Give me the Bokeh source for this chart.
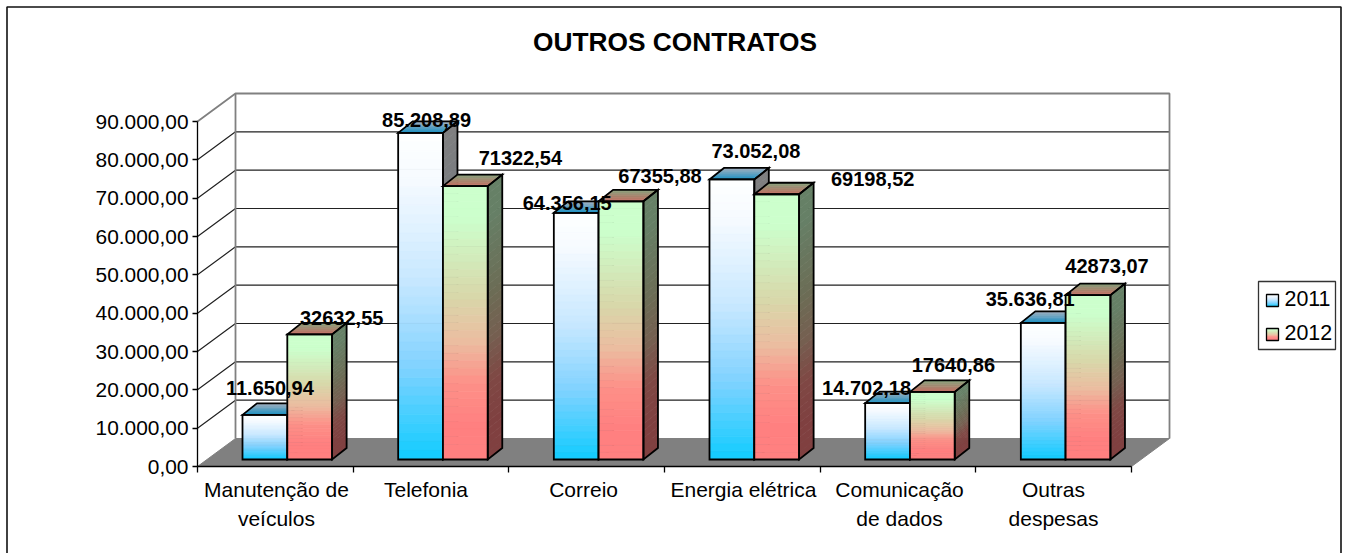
from bokeh.plotting import figure
from bokeh.models import ColumnDataSource, FixedTicker
from bokeh.core.properties import value
from bokeh.embed import file_html
from bokeh.resources import INLINE

CATEGORIES = ["Manutenção de\nveículos", "Telefonia", "Correio", "Energia elétrica", "Comunicação\nde dados", "Outras\ndespesas"]
SERIES_2011 = [11650.94, 85208.89, 64356.15, 73052.08, 14702.18, 35636.81]
SERIES_2012 = [32632.55, 71322.54, 67355.88, 69198.52, 17640.86, 42873.07]
LABELS_2011 = ["11.650,94", "85.208,89", "64.356,15", "73.052,08", "14.702,18", "35.636,81"]
LABELS_2012 = ["32632,55", "71322,54", "67355,88", "69198,52", "17640,86", "42873,07"]
Y_TICKS = [0, 10000, 20000, 30000, 40000, 50000, 60000, 70000, 80000, 90000]
Y_TICK_LABELS = ["0,00", "10.000,00", "20.000,00", "30.000,00", "40.000,00", "50.000,00", "60.000,00", "70.000,00", "80.000,00", "90.000,00"]
TITLE = "OUTROS CONTRATOS"
LEGEND_NAMES = ["2011", "2012"]
LABEL_TICKS = [0.507, 1.468, 2.480, 3.507, 4.510, 5.499]

# label nudges (pixels) relative to the top-front-centre of each bar
NUDGE_X_2011 = [5, 6, -9, 24, -21, -13]
NUDGE_Y_2011 = [27, 13, 10, 28, 15, 24]
NUDGE_X_2012 = [32, 55, 39, 96, 21, 19]
NUDGE_Y_2012 = [16, 28, 25, 15, 27, 29]

W, H = 1347, 553
X0, CAT_W = 197.0, 155.667      # pixel of x=0, pixels per category
Y0, PX_PER_V = 466.0, 345 / 90000
FONT = "Liberation Sans"

# stops: position, rgb
GRAD = {
    0: [(0, (255, 255, 255)), (0.15, (245, 250, 255)), (0.45, (200, 232, 255)), (0.72, (128, 210, 255)), (1, (16, 204, 255))],
    1: [(0, (204, 255, 204)), (0.12, (204, 255, 204)), (0.4, (216, 216, 170)), (0.57, (235, 189, 160)), (0.72, (253, 144, 136)), (0.88, (255, 128, 128)), (1, (255, 128, 128))],
}
TOP_BACK = {0: (170, 176, 188), 1: (130, 165, 125)}
TOP_FRONT = {0: (30, 145, 195), 1: (195, 110, 100)}


def gx(px):
    return (px - X0) / CAT_W


def gy(py):
    return (Y0 - py) / PX_PER_V


def hexc(rgb, k=1.0):
    return "#%02x%02x%02x" % tuple(int(round(c * k)) for c in rgb)


def mix(a, b, t):
    return tuple(a[i] + (b[i] - a[i]) * t for i in range(3))


def grad(series, t):
    st = GRAD[series]
    for (t0, c0), (t1, c1) in zip(st, st[1:]):
        if t <= t1:
            return mix(c0, c1, (t - t0) / (t1 - t0))
    return st[-1][1]


p = figure(width=W, height=H, toolbar_location=None, output_backend="svg",
           x_range=(gx(0), gx(W)), y_range=(gy(H), gy(0)), min_border=0,
           outline_line_color=None, background_fill_color="white", border_fill_color="white")
p.margin = (0, 0, 0, 0)
p.grid.visible = False

# outer frame (open at the bottom, as in the picture)
p.line([gx(6.5), gx(6.5), gx(1340.5), gx(1340.5)], [gy(H), gy(6.5), gy(6.5), gy(H)],
       line_color="#111111", line_width=1.6)

# 3-D box: floor and walls
DEPTH_X, DEPTH_Y = 38 / CAT_W, 28 / PX_PER_V
p.patch([0, 6, 6 + DEPTH_X, DEPTH_X], [0, 0, DEPTH_Y, DEPTH_Y], fill_color="#808080", line_color="#808080", line_width=1)
for v in Y_TICKS[1:-1]:
    p.line([0, DEPTH_X, 6 + DEPTH_X], [v, v + DEPTH_Y, v + DEPTH_Y], line_color="#222222", line_width=1.2)
top = Y_TICKS[-1]
p.line([0, DEPTH_X, 6 + DEPTH_X, 6 + DEPTH_X], [top, top + DEPTH_Y, top + DEPTH_Y, DEPTH_Y], line_color="#808080", line_width=1.8)
p.line([DEPTH_X, DEPTH_X], [DEPTH_Y, top + DEPTH_Y], line_color="#808080", line_width=1.8)

# bars
BAR_W = 44.8 / CAT_W
BAR_START = 45.0 / CAT_W
BASE = 7.0 / PX_PER_V
BAR_DX, BAR_DY = 14.5 / CAT_W, 11.5 / PX_PER_V
N = 36
xs, ys, fills, lines, widths, alphas = [], [], [], [], [], []


def add(x, y, fill, line=None, width=0.7, alpha=1.0):
    xs.append(x)
    ys.append(y)
    fills.append(fill)
    lines.append(line if line else fill)
    widths.append(width)
    alphas.append(alpha)


for k in range(len(CATEGORIES)):
    for s, vals in enumerate((SERIES_2011, SERIES_2012)):
        xa = k + BAR_START + s * BAR_W
        xb = xa + BAR_W
        yt = vals[k] + BASE
        yb = BASE
        for i in range(N):
            t0, t1 = i / N, (i + 1) / N
            y0 = yt + (yb - yt) * t0
            y1 = yt + (yb - yt) * t1
            c = grad(s, (t0 + t1) / 2)
            add([xb, xb + BAR_DX, xb + BAR_DX, xb], [y0, y0 + BAR_DY, y1 + BAR_DY, y1], hexc(c, 0.5))
            add([xa, xb, xb, xa], [y0, y0, y1, y1], hexc(c))
        for i in range(6):
            t0, t1 = i / 6, (i + 1) / 6
            c = mix(TOP_BACK[s], TOP_FRONT[s], (t0 + t1) / 2)
            ya, yc = yt + BAR_DY * (1 - t0), yt + BAR_DY * (1 - t1)
            da, dc = BAR_DX * (1 - t0), BAR_DX * (1 - t1)
            add([xa + da, xb + da, xb + dc, xa + dc], [ya, ya, yc, yc], hexc(c))
        # outlines
        add([xa, xb, xb, xa], [yt, yt, yb, yb], "#000000", "#000000", 1.8, 0.0)
        add([xb, xb + BAR_DX, xb + BAR_DX, xb], [yt, yt + BAR_DY, yb + BAR_DY, yb], "#000000", "#000000", 1.8, 0.0)
        add([xa, xa + BAR_DX, xb + BAR_DX, xb], [yt, yt + BAR_DY, yt + BAR_DY, yt], "#000000", "#000000", 1.8, 0.0)

p.patches("xs", "ys", source=ColumnDataSource(dict(xs=xs, ys=ys, f=fills, l=lines, w=widths, a=alphas)),
          fill_color="f", line_color="l", line_width="w", fill_alpha="a", line_join="miter")

# value labels
lx, ly, lt, ox, oy = [], [], [], [], []
for s, (vals, labs, nx, ny) in enumerate(((SERIES_2011, LABELS_2011, NUDGE_X_2011, NUDGE_Y_2011),
                                          (SERIES_2012, LABELS_2012, NUDGE_X_2012, NUDGE_Y_2012))):
    for k, v in enumerate(vals):
        lx.append(k + BAR_START + (s + 0.5) * BAR_W)
        ly.append(v + BASE)
        lt.append(labs[k])
        ox.append(nx[k])
        oy.append(-ny[k])
p.text("x", "y", text="t", x_offset="ox", y_offset="oy",
       source=ColumnDataSource(dict(x=lx, y=ly, t=lt, ox=ox, oy=oy)),
       text_font=value(FONT), text_font_style="bold", text_font_size="20px",
       text_align="center", text_baseline="middle", text_color="black")

# title
p.text([gx(674.5)], [gy(41)], text=[TITLE], text_font=value(FONT), text_font_style="bold",
       text_font_size="26.3px", text_align="center", text_baseline="middle", text_color="black")

# legend
p.patch([gx(1258), gx(1335), gx(1335), gx(1258)], [gy(281), gy(281), gy(349), gy(349)],
        fill_color="white", line_color="#333333", line_width=1.3)
lxs, lys, lfs = [], [], []
LEG_Y = [294, 328]
for s, y_top in enumerate(LEG_Y):
    for i in range(12):
        a, b = y_top + i, y_top + i + 1
        lxs.append([gx(1266), gx(1278), gx(1278), gx(1266)])
        lys.append([gy(a), gy(a), gy(b), gy(b)])
        lfs.append(hexc(grad(s, (i + 0.5) / 12)))
p.patches("x", "y", source=ColumnDataSource(dict(x=lxs, y=lys, f=lfs)), fill_color="f", line_color="f", line_width=0.6)
for s, y_top in enumerate(LEG_Y):
    p.patch([gx(1266), gx(1278), gx(1278), gx(1266)], [gy(y_top), gy(y_top), gy(y_top + 12), gy(y_top + 12)],
            fill_alpha=0, line_color="black", line_width=1.3)
p.text([gx(1284)] * 2, [gy(297.5), gy(332)], text=LEGEND_NAMES, text_font=value(FONT), text_font_size="21.4px",
       text_align="left", text_baseline="middle", text_color="black")

# axes
yax = p.yaxis[0]
yax.fixed_location = 0
yax.bounds = (0, 90000)
yax.ticker = FixedTicker(ticks=Y_TICKS)
yax.major_label_overrides = dict(zip(Y_TICKS, Y_TICK_LABELS))
yax.major_tick_in = 0
yax.major_tick_out = 5
yax.minor_tick_out = 0
yax.minor_tick_in = 0
yax.major_label_standoff = 4
yax.major_label_text_font = FONT
yax.major_label_text_font_size = "20.9px"
yax.major_label_text_color = "black"
yax.axis_line_color = "black"
yax.axis_line_width = 1.3
yax.major_tick_line_color = "black"
yax.major_tick_line_width = 1.3

xax = p.xaxis[0]
xax.fixed_location = 0
xax.bounds = (0, 6)
xax.ticker = FixedTicker(ticks=LABEL_TICKS, minor_ticks=list(range(len(CATEGORIES) + 1)))
xax.major_label_overrides = dict(zip(LABEL_TICKS, CATEGORIES))
xax.major_tick_in = 0
xax.major_tick_out = 0
xax.minor_tick_in = 0
xax.minor_tick_out = 6
xax.minor_tick_line_color = "black"
xax.minor_tick_line_width = 1.3
xax.major_label_standoff = 5
xax.major_label_text_font = FONT
xax.major_label_text_font_size = "21px"
xax.major_label_text_color = "black"
xax.major_label_text_line_height = 1.27
xax.axis_line_color = "black"
xax.axis_line_width = 1.6

open("out.html", "w").write(file_html(p, INLINE))
